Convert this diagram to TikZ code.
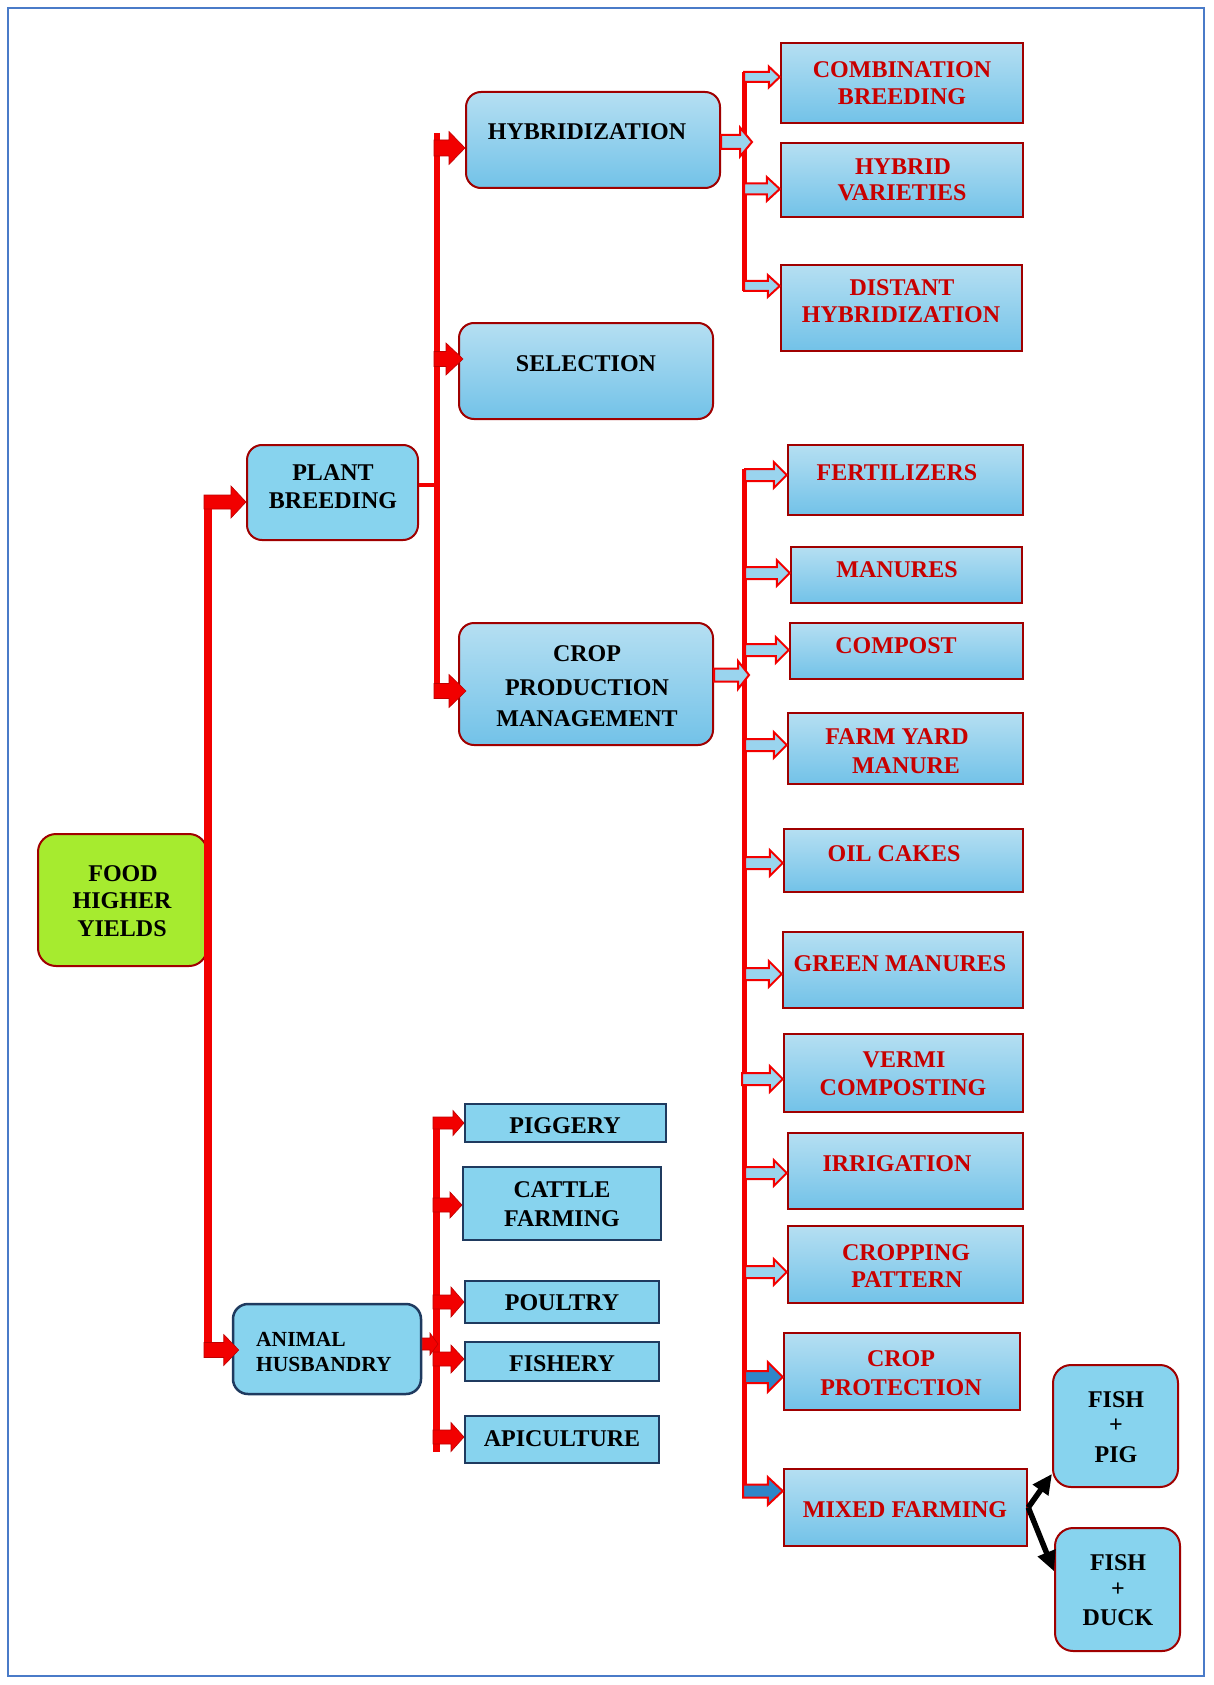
\documentclass[tikz,border=0pt]{standalone}
\usepackage{fontspec}
\setmainfont{Liberation Serif}
\usetikzlibrary{calc,arrows.meta}
\definecolor{frameblue}{HTML}{4A7BC8}
\definecolor{dred}{HTML}{A00000}
\definecolor{tred}{HTML}{C80000}
\definecolor{bxtop}{HTML}{B5DFF2}
\definecolor{bxbot}{HTML}{72C2E8}
\definecolor{skyf}{HTML}{87D3EE}
\definecolor{limef}{HTML}{A6EB2F}
\definecolor{navy}{HTML}{1F3A5F}
\definecolor{arrfill}{HTML}{9AD4EE}
\definecolor{arrblue}{HTML}{2E86C8}
\definecolor{lred}{HTML}{F20000}
\newcommand{\bx}[6]{\node[#1, minimum width={(#5-#3)*1pt}, minimum height={(#6-#4)*1pt}] (#2) at ({(#3+#5)/2},{(#4+#6)/2}) {};}
\newcommand{\blk}[6]{\path[#1] let \p1=#2, \p2=#3 in (\x1,\y1+#4pt) -- (\x2-#6pt,\y1+#4pt) -- (\x2-#6pt,\y1+#5pt) -- (\x2,\y1) -- (\x2-#6pt,\y1-#5pt) -- (\x2-#6pt,\y1-#4pt) -- (\x1,\y1-#4pt) -- cycle;}
\tikzset{
  rbox/.style={draw=dred, line width=2pt, rounded corners=15pt, top color=bxtop, bottom color=bxbot, inner sep=0pt},
  pbox/.style={draw=dred, line width=2pt, rounded corners=15pt, fill=skyf, inner sep=0pt},
  foodbox/.style={draw=dred, line width=2pt, rounded corners=18pt, fill=limef, inner sep=0pt},
  ahbox/.style={draw=navy, line width=2.5pt, rounded corners=15pt, fill=skyf, inner sep=0pt},
  abox/.style={draw=navy, line width=2pt, fill=skyf, inner sep=0pt},
  sbox/.style={draw=dred, line width=2.5pt, top color=bxtop, bottom color=bxbot, inner sep=0pt},
  fishbox/.style={draw=dred, line width=2pt, rounded corners=18pt, fill=skyf, inner sep=0pt},
  tb/.style={font=\bfseries\fontsize{24}{28}\selectfont, inner sep=0pt, anchor=base},
  tr/.style={tb, text=tred},
  ta/.style={font=\bfseries\fontsize{21.5}{26}\selectfont, inner sep=0pt, anchor=base west},
  solidarr/.style={fill=lred, draw=red!75!black, line width=0.6pt},
  outarr/.style={fill=arrfill, draw=lred, line width=2pt},
  bluearr/.style={fill=arrblue, draw=lred, line width=2pt},
  trunk/.style={draw=lred, line cap=butt},
  blackarr/.style={draw=black, line width=5.5pt, -{Triangle[length=20pt,width=18pt]}}
}
\begin{document}
\begin{tikzpicture}[x=1pt,y=-1pt]
\useasboundingbox (0,0) rectangle (1213,1685);
\fill[white] (0,0) rectangle (1213,1685);
\draw[frameblue, line width=2pt] (8,8) rectangle (1204,1676);

% boxes
\bx{rbox}{hyb}{466}{92}{720}{188}
\bx{rbox}{sel}{459}{323}{713}{419}
\bx{rbox}{crop}{459}{623}{713}{745}
\bx{pbox}{pb}{247}{445}{418}{540}
\bx{foodbox}{food}{38}{834}{207}{966}
\bx{ahbox}{ah}{233}{1304}{421}{1394}
\bx{abox}{pig}{465}{1104}{666}{1142}
\bx{abox}{cat}{463}{1167}{661}{1240}
\bx{abox}{pou}{465}{1281}{659}{1323}
\bx{abox}{fsh}{465}{1342}{659}{1381}
\bx{abox}{api}{465}{1416}{659}{1463}
\bx{sbox}{comb}{781}{43}{1023}{123}
\bx{sbox}{hv}{781}{143}{1023}{217}
\bx{sbox}{dh}{781}{265}{1022}{351}
\bx{sbox}{fert}{788}{445}{1023}{515}
\bx{sbox}{man}{791}{547}{1022}{603}
\bx{sbox}{comp}{790}{623}{1023}{679}
\bx{sbox}{fym}{788}{713}{1023}{784}
\bx{sbox}{oil}{784}{829}{1023}{892}
\bx{sbox}{gm}{783}{932}{1023}{1008}
\bx{sbox}{vc}{784}{1034}{1023}{1112}
\bx{sbox}{irr}{788}{1133}{1023}{1209}
\bx{sbox}{cpat}{788}{1226}{1023}{1303}
\bx{sbox}{prot}{784}{1333}{1020}{1410}
\bx{sbox}{mix}{784}{1469}{1027}{1546}
\bx{fishbox}{fp}{1053}{1365}{1178}{1487}
\bx{fishbox}{fd}{1055}{1528}{1180}{1651}

% texts
\node[tb] (tFood1) at (123,881) {FOOD};
\node[tb] (tFood2) at (122,908) {HIGHER};
\node[tb] (tFood3) at (122,936) {YIELDS};
\node[tb] (tPb1) at (333,480) {PLANT};
\node[tb] (tPb2) at (333,508) {BREEDING};
\node[tb] (tHyb) at (587,140) {HYBRIDIZATION};
\node[tb] (tSel) at (586,371) {SELECTION};
\node[tb] (tCr1) at (587,661) {CROP};
\node[tb] (tCr2) at (587,695) {PRODUCTION};
\node[tb] (tCr3) at (587,726) {MANAGEMENT};
\node[ta] (tAh1) at (256,1346) {ANIMAL};
\node[ta] (tAh2) at (256,1371) {HUSBANDRY};
\node[tb] (tPig) at (565,1133) {PIGGERY};
\node[tb] (tCat1) at (562,1197) {CATTLE};
\node[tb] (tCat2) at (562,1226) {FARMING};
\node[tb] (tPou) at (562,1310) {POULTRY};
\node[tb] (tFsh) at (562,1371) {FISHERY};
\node[tb] (tApi) at (562,1446) {APICULTURE};
\node[tr] (tComb1) at (902,78) {COMBINATION};
\node[tr] (tComb2) at (902,105) {BREEDING};
\node[tr] (tHv1) at (903,175) {HYBRID};
\node[tr] (tHv2) at (902,201) {VARIETIES};
\node[tr] (tDh1) at (902,296) {DISTANT};
\node[tr] (tDh2) at (901,323) {HYBRIDIZATION};
\node[tr] (tFert) at (897,480) {FERTILIZERS};
\node[tr] (tMan) at (897,577) {MANURES};
\node[tr] (tComp) at (896,653) {COMPOST};
\node[tr] (tFym1) at (897,744) {FARM YARD};
\node[tr] (tFym2) at (906,773) {MANURE};
\node[tr] (tOil) at (894,861) {OIL CAKES};
\node[tr] (tGm) at (900,971) {GREEN MANURES};
\node[tr] (tVc1) at (904,1067) {VERMI};
\node[tr] (tVc2) at (903,1095) {COMPOSTING};
\node[tr] (tIrr) at (897,1171) {IRRIGATION};
\node[tr] (tCp1) at (906,1260) {CROPPING};
\node[tr] (tCp2) at (907,1287) {PATTERN};
\node[tr] (tPr1) at (901,1366) {CROP};
\node[tr] (tPr2) at (901,1395) {PROTECTION};
\node[tr] (tMix) at (905,1517) {MIXED FARMING};
\node[tb] (tFp1) at (1116,1407) {FISH};
\node[tb] (tFp2) at (1116,1432) {+};
\node[tb] (tFp3) at (1116,1462) {PIG};
\node[tb] (tFd1) at (1118,1570) {FISH};
\node[tb] (tFd2) at (1118,1596) {+};
\node[tb] (tFd3) at (1118,1625) {DUCK};

% trunk coordinates
\coordinate (m1) at (208,495);
\coordinate (m2) at (208,1357);
\coordinate (p1) at (437,133);
\coordinate (p2) at (437,698);
\coordinate (pbT) at (437,485);
\coordinate (h1) at (744,72);
\coordinate (h2) at (744,291);
\coordinate (c1) at (744,469);
\coordinate (c2) at (744,1498);
\coordinate (a1) at (436,1117);
\coordinate (a2) at (436,1452);

\draw[trunk, line width=8pt] (m1) -- (m2);
\draw[trunk, line width=6pt] (p1) -- (p2);
\draw[trunk, line width=4pt] ($(pb.east)+(0,-7.5)$) -- (pbT);
\draw[trunk, line width=5pt] (h1) -- (h2);
\draw[trunk, line width=5pt] (c1) -- (c2);
\draw[trunk, line width=7pt] (a1) -- (a2);

% main arrows
\coordinate (pbIn) at (204,502);
\blk{solidarr}{(pbIn)}{(pb.west)}{7}{16}{15}
\coordinate (ahIn) at (204,1350);
\blk{solidarr}{(ahIn)}{($(ah.west)+(7,0)$)}{7.5}{15.5}{15}

% plant breeding arrows
\coordinate (hybIn) at (434,148);
\blk{solidarr}{(hybIn)}{(hyb.west)}{8}{16.5}{16}
\coordinate (selIn) at (434,359);
\blk{solidarr}{(selIn)}{($(sel.west)+(5,0)$)}{7.5}{16}{17}
\coordinate (crpIn) at (434,691);
\blk{solidarr}{(crpIn)}{($(crop.west)+(8,0)$)}{7.5}{16.5}{17}

% hybridization arrows
\coordinate (hT) at (752,142);
\blk{outarr}{($(hyb.east)+(0,2)$)}{(hT)}{7}{14.5}{12}
\coordinate (hc1) at (744,77);
\blk{outarr}{(hc1)}{(comb.west)}{5}{10.5}{11}
\coordinate (hc2) at (744,189);
\blk{outarr}{(hc2)}{(hv.west)}{5.5}{12}{13}
\coordinate (hc3) at (744,286);
\blk{outarr}{(hc3)}{(dh.west)}{5}{11}{12}

% crop production arrows
\coordinate (cT) at (749,675);
\blk{outarr}{($(crop.east)+(0,-9)$)}{(cT)}{6.5}{14}{11}
\coordinate (cc1) at (745,475);
\blk{outarr}{(cc1)}{(fert.west)}{6}{13}{13}
\coordinate (cc2) at (745,573);
\blk{outarr}{(cc2)}{(man.west)}{6}{13}{13}
\coordinate (cc3) at (745,650);
\blk{outarr}{(cc3)}{(comp.west)}{6}{13}{13}
\coordinate (cc4) at (745,745);
\blk{outarr}{(cc4)}{(fym.west)}{6}{13}{13}
\coordinate (cc5) at (745,863);
\blk{outarr}{(cc5)}{(oil.west)}{6}{13}{13}
\coordinate (cc6) at (745,974);
\blk{outarr}{(cc6)}{(gm.west)}{6}{13}{13}
\coordinate (cc7) at (742,1079);
\blk{outarr}{(cc7)}{(vc.west)}{6}{13}{13}
\coordinate (cc8) at (745,1173);
\blk{outarr}{(cc8)}{(irr.west)}{6}{13}{13}
\coordinate (cc9) at (745,1272);
\blk{outarr}{(cc9)}{(cpat.west)}{6}{13}{13}
\coordinate (cc10) at (745,1377);
\blk{bluearr}{(cc10)}{(prot.west)}{6}{15}{15}
\coordinate (cc11) at (743,1491);
\blk{bluearr}{(cc11)}{(mix.west)}{6.5}{14}{15}

% animal husbandry arrows
\coordinate (aT) at (438,1344);
\blk{solidarr}{($(ah.east)+(0,-5)$)}{(aT)}{6}{11}{8}
\coordinate (ap1) at (433,1123);
\blk{solidarr}{(ap1)}{(pig.west)}{6}{12.5}{11}
\coordinate (ap2) at (433,1205);
\blk{solidarr}{(ap2)}{(cat.west)}{7}{13}{12}
\coordinate (ap3) at (433,1302);
\blk{solidarr}{(ap3)}{(pou.west)}{7}{15}{13}
\coordinate (ap4) at (433,1359);
\blk{solidarr}{(ap4)}{(fsh.west)}{7}{14}{13}
\coordinate (ap5) at (433,1437);
\blk{solidarr}{(ap5)}{(api.west)}{7}{14.5}{13}

% mixed farming arrows
\draw[blackarr] (mix.east) -- (fp.217);
\draw[blackarr] (mix.east) -- (fd.164);
\end{tikzpicture}
\end{document}
